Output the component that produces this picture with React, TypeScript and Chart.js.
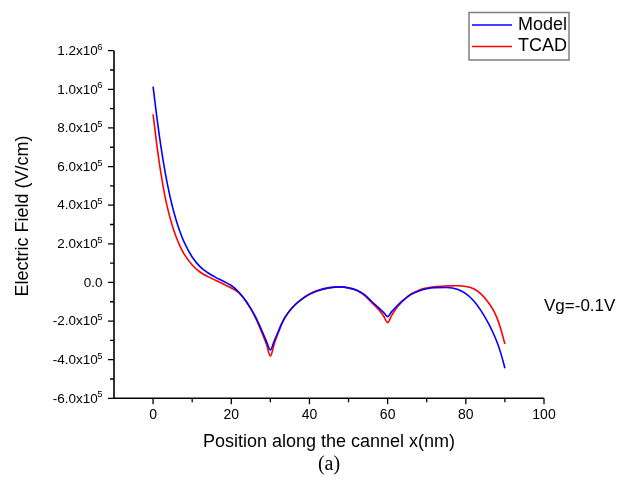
import React, { useEffect, useRef } from "react";
import { Chart, registerables } from "chart.js";

Chart.register(...registerables);

// Position along the channel (nm)
const positions = [
  0, 1, 2, 3, 4, 5, 6, 7, 8, 10, 12, 14, 16, 18, 20, 22, 24, 26, 27, 28, 29, 30,
  31, 32, 33, 34, 36, 38, 40, 42, 45, 48, 50, 52, 54, 56, 57, 58, 59, 60, 61, 62,
  63, 64, 66, 68, 70, 72, 75, 78, 80, 82, 84, 86, 87, 88, 89, 90,
];

// Electric field, analytical model (V/cm)
const modelField = [
  1.014e6, 8.5e5, 7.05e5, 5.8e5, 4.75e5, 3.88e5, 3.16e5, 2.56e5, 2.06e5, 1.32e5,
  8.2e4, 5.0e4, 2.6e4, 6e3, -1.6e4, -5.2e4, -1.05e5, -1.7e5, -2.12e5, -2.58e5,
  -3.05e5, -3.5e5, -3.02e5, -2.55e5, -2.08e5, -1.72e5, -1.22e5, -8.8e4, -6.2e4,
  -4.4e4, -2.8e4, -2.3e4, -2.8e4, -3.9e4, -6.2e4, -1.0e5, -1.18e5, -1.37e5,
  -1.56e5, -1.77e5, -1.52e5, -1.3e5, -1.1e5, -9.2e4, -6.2e4, -4.4e4, -3.3e4,
  -2.7e4, -2.6e4, -3.6e4, -5.8e4, -9.5e4, -1.5e5, -2.2e5, -2.62e5, -3.1e5,
  -3.7e5, -4.44e5,
];

// Electric field, TCAD simulation (V/cm)
const tcadField = [
  8.71e5, 7.05e5, 5.65e5, 4.5e5, 3.6e5, 2.88e5, 2.3e5, 1.83e5, 1.45e5, 9.0e4,
  5.4e4, 3.0e4, 1.1e4, -8e3, -2.9e4, -5.4e4, -1.02e5, -1.75e5, -2.2e5, -2.68e5,
  -3.2e5, -3.81e5, -3.18e5, -2.62e5, -2.12e5, -1.74e5, -1.22e5, -8.6e4, -6.0e4,
  -4.2e4, -2.7e4, -2.3e4, -2.9e4, -4.1e4, -6.6e4, -1.06e5, -1.26e5, -1.48e5,
  -1.75e5, -2.08e5, -1.72e5, -1.4e5, -1.15e5, -9.3e4, -6.0e4, -4.0e4, -2.9e4,
  -2.2e4, -1.8e4, -1.7e4, -2.1e4, -3.3e4, -6.2e4, -1.1e5, -1.42e5, -1.85e5,
  -2.45e5, -3.19e5,
];

const xMajorTicks = [0, 20, 40, 60, 80, 100];
const xMinorTicks = [10, 30, 50, 70, 90];
const yMajorTicks = [-6e5, -4e5, -2e5, 0, 2e5, 4e5, 6e5, 8e5, 1.0e6, 1.2e6];
const yMinorTicks = [-5e5, -3e5, -1e5, 1e5, 3e5, 5e5, 7e5, 9e5, 1.1e6];

const seriesNames = ["Model", "TCAD"];
const seriesColors = ["#0000ff", "#ff0000"];

const xTitle = "Position along the cannel x(nm)";
const yTitle = "Electric Field (V/cm)";
const biasNote = "Vg=-0.1V";
const caption = "(a)";

const SANS = "'Liberation Sans', Arial, sans-serif";
const SERIF = "'Liberation Serif', 'Times New Roman', serif";

function splitSci(v: number): [string, string] {
  if (v === 0) return ["0.0", ""];
  const exp = Math.floor(Math.log10(Math.abs(v)) + 1e-9);
  const mant = v / Math.pow(10, exp);
  return [`${mant.toFixed(1)}x10`, String(exp)];
}

const axesPlugin = {
  id: "originAxes",
  afterDraw(chart: any) {
    const { ctx, chartArea } = chart;
    const xs = chart.scales.x;
    const ys = chart.scales.y;
    const { left, right, top, bottom } = chartArea;
    ctx.save();
    ctx.strokeStyle = "#000";
    ctx.fillStyle = "#000";
    ctx.lineWidth = 1.6;

    // axis lines
    ctx.beginPath();
    ctx.moveTo(left, top);
    ctx.lineTo(left, bottom);
    ctx.lineTo(right, bottom);
    ctx.stroke();

    // tick marks
    ctx.lineWidth = 1.3;
    ctx.beginPath();
    xMajorTicks.forEach((v) => {
      const px = xs.getPixelForValue(v);
      ctx.moveTo(px, bottom);
      ctx.lineTo(px, bottom + 6);
    });
    xMinorTicks.forEach((v) => {
      const px = xs.getPixelForValue(v);
      ctx.moveTo(px, bottom);
      ctx.lineTo(px, bottom + 4);
    });
    yMajorTicks.forEach((v) => {
      const py = ys.getPixelForValue(v);
      ctx.moveTo(left, py);
      ctx.lineTo(left - 6, py);
    });
    yMinorTicks.forEach((v) => {
      const py = ys.getPixelForValue(v);
      ctx.moveTo(left, py);
      ctx.lineTo(left - 4, py);
    });
    ctx.stroke();

    // x tick labels
    ctx.font = `14px ${SANS}`;
    ctx.textAlign = "center";
    ctx.textBaseline = "middle";
    xMajorTicks.forEach((v) => {
      ctx.fillText(String(v), xs.getPixelForValue(v), bottom + 17);
    });

    // y tick labels with superscript exponents
    const labelRight = left - 11.5;
    yMajorTicks.forEach((v) => {
      const py = ys.getPixelForValue(v);
      const [base, sup] = splitSci(v);
      ctx.font = `9.5px ${SANS}`;
      const supW = sup ? ctx.measureText(sup).width : 0;
      ctx.textAlign = "left";
      ctx.textBaseline = "alphabetic";
      if (sup) ctx.fillText(sup, labelRight - supW, py - 1);
      ctx.font = `13.5px ${SANS}`;
      ctx.textAlign = "right";
      ctx.textBaseline = "middle";
      ctx.fillText(base, labelRight - supW + (sup ? 0.5 : 0), py + 0.5);
    });

    // axis titles
    ctx.font = `18px ${SANS}`;
    ctx.textAlign = "center";
    ctx.textBaseline = "middle";
    ctx.fillText(xTitle, (left + right) / 2, bottom + 44);
    ctx.save();
    ctx.translate(23, 216);
    ctx.rotate(-Math.PI / 2);
    ctx.fillText(yTitle, 0, 0);
    ctx.restore();

    // bias annotation
    ctx.font = `17px ${SANS}`;
    ctx.textAlign = "left";
    ctx.fillText(biasNote, right, 306);

    // legend box
    const lx = 469, ly = 12.5, lw = 100, lh = 47.5;
    ctx.strokeStyle = "#7f7f7f";
    ctx.lineWidth = 1.5;
    ctx.strokeRect(lx, ly, lw, lh);
    ctx.font = `18px ${SANS}`;
    ctx.fillStyle = "#000";
    ctx.textAlign = "left";
    seriesNames.forEach((name, i) => {
      const cy = 25 + i * 21.5;
      ctx.strokeStyle = seriesColors[i];
      ctx.lineWidth = 1.6;
      ctx.beginPath();
      ctx.moveTo(lx + 3, cy);
      ctx.lineTo(lx + 43, cy);
      ctx.stroke();
      ctx.fillText(name, lx + 49, cy);
    });

    // caption
    ctx.font = `20px ${SERIF}`;
    ctx.textAlign = "center";
    ctx.fillText(caption, 329, 465);

    ctx.restore();
  },
};

export default function App() {
  const canvasRef = useRef<HTMLCanvasElement | null>(null);

  useEffect(() => {
    const canvas = canvasRef.current;
    if (!canvas) return;
    const series = [modelField, tcadField];
    const chart = new Chart(canvas, {
      type: "line",
      data: {
        datasets: series.map((vals, i) => ({
          label: seriesNames[i],
          data: positions.map((x, j) => ({ x, y: vals[j] })),
          borderColor: seriesColors[i],
          borderWidth: 1.6,
          pointRadius: 0,
          fill: false,
          cubicInterpolationMode: "monotone" as const,
        })),
      },
      options: {
        responsive: false,
        animation: false,
        layout: { padding: { left: 114, right: 85, top: 50.7, bottom: 85.7 } },
        plugins: { legend: { display: false }, tooltip: { enabled: false } },
        scales: {
          x: { type: "linear", display: false, min: -10, max: 100 },
          y: { type: "linear", display: false, min: -6e5, max: 1.2e6 },
        },
      },
      plugins: [axesPlugin],
    });
    return () => chart.destroy();
  }, []);

  return (
    <div style={{ position: "absolute", left: 0, top: 0, width: 629, height: 484, background: "#fff" }}>
      <canvas ref={canvasRef} width={629} height={484} style={{ display: "block" }} />
    </div>
  );
}
